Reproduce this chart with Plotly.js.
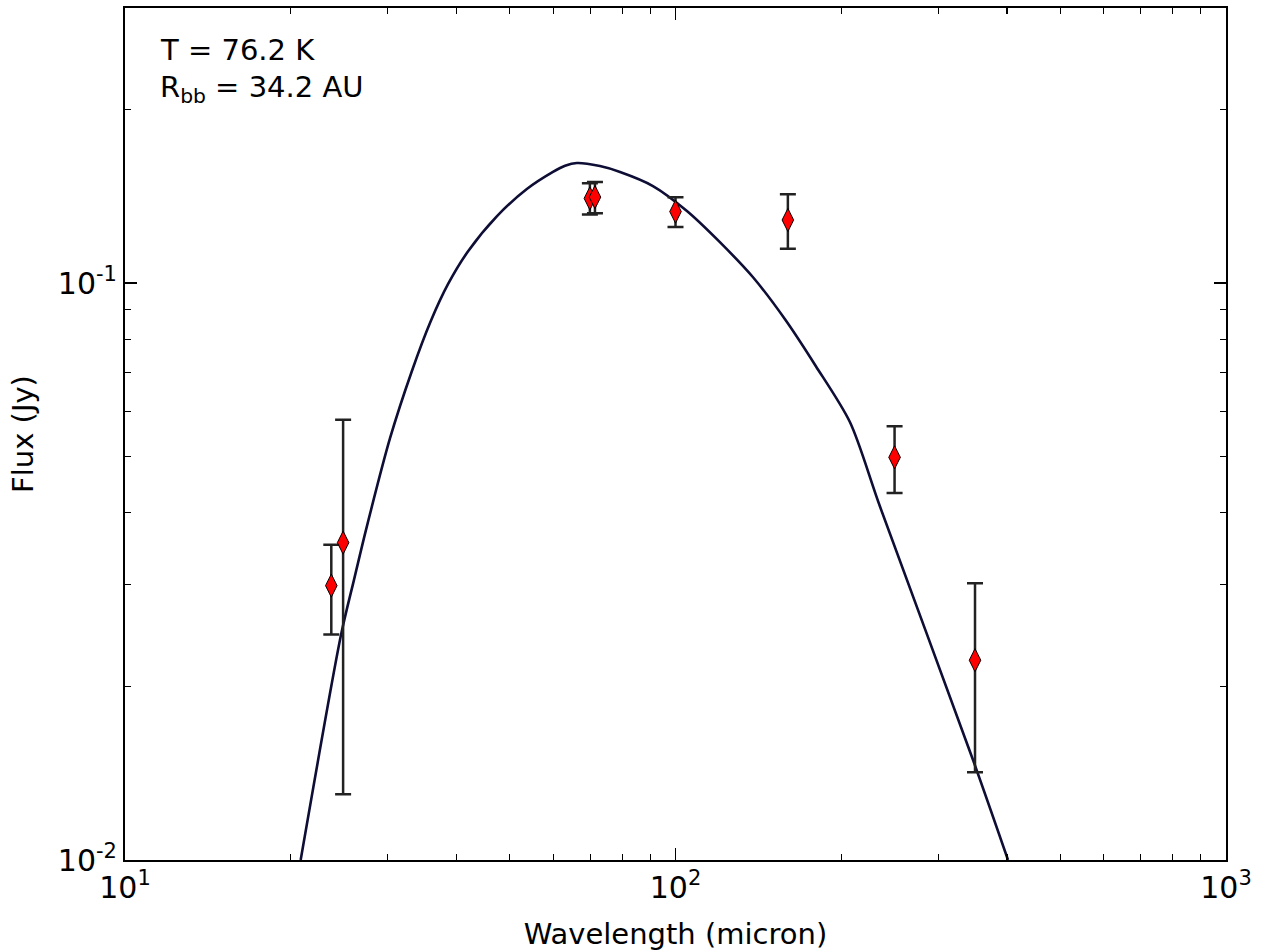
<!DOCTYPE html>
<html>
<head>
<meta charset="utf-8">
<script src="https://cdn.plot.ly/plotly-3.0.1.min.js"></script>
<style>html,body{margin:0;padding:0;background:#fff;}#chart{width:1271px;height:951px;}</style>
</head>
<body>
<div id="chart"></div>
<script>
// Photometry (micron, Jy)
const obsWavelength = [23.7, 24.9, 69.9, 71.4, 100, 160, 250, 350];
const obsFlux = [0.0299, 0.0355, 0.1403, 0.1410, 0.1331, 0.1287, 0.0499, 0.0222];
const obsError = [0.0053, 0.0225, 0.0088, 0.0088, 0.0079, 0.0140, 0.0066, 0.0080];

// Model curve
const modelWavelength = [20.85, 24.69, 26.06, 27.41, 30.29, 33.18, 35.92, 38.61, 42.0, 47.4, 53.7, 59.9, 63.0, 66.2, 72.9, 79.3, 91.0, 104.9, 120.4, 138.3, 158.1, 179.9, 207.5, 235.2, 347.0, 401.8];
const modelFlux = [0.0100, 0.02459, 0.0306, 0.0374, 0.0538, 0.0703, 0.0859, 0.0996, 0.1136, 0.1307, 0.1456, 0.1559, 0.1598, 0.1616, 0.1596, 0.1559, 0.1474, 0.1334, 0.1178, 0.1024, 0.0866, 0.0718, 0.0574, 0.0410, 0.01492, 0.0100];

const xTickVals = [10, 100, 1000];
const xTickText = ['10<sup>1</sup>', '10<sup>2</sup>', '10<sup>3</sup>'];
const xMinorVals = [20, 30, 40, 50, 60, 70, 80, 90, 200, 300, 400, 500, 600, 700, 800, 900];
const yTickVals = [0.01, 0.1];
const yTickText = ['10<sup>-2</sup>', '10<sup>-1</sup>'];
const yMinorVals = [0.02, 0.03, 0.04, 0.05, 0.06, 0.07, 0.08, 0.09, 0.2];

const annotationLines = ['T = 76.2 K', 'R<sub>bb</sub> = 34.2 AU'];

const FONT = 'DejaVu Sans, Bitstream Vera Sans, sans-serif';

const traces = [
  {
    x: modelWavelength, y: modelFlux, type: 'scatter', mode: 'lines',
    line: {color: '#0d0d35', width: 2.6, shape: 'spline', smoothing: 0.8},
    hoverinfo: 'skip', showlegend: false
  },
  {
    x: obsWavelength, y: obsFlux, type: 'scatter', mode: 'markers',
    marker: {symbol: 'diamond-tall', size: 16.5, color: '#ff0000', line: {color: '#000', width: 1}},
    error_y: {type: 'data', array: obsError, visible: true, color: '#222', thickness: 2.5, width: 8},
    showlegend: false
  }
];

const axisCommon = {
  type: 'log', showgrid: false, zeroline: false,
  showline: true, linecolor: '#000', linewidth: 2, mirror: 'ticks',
  ticks: 'inside', ticklen: 12, tickwidth: 1.5, tickcolor: '#000',
  tickmode: 'array',
  tickfont: {family: FONT, size: 30, color: '#000'}
};

const layout = {
  width: 1271, height: 951,
  margin: {l: 125, r: 45, t: 8, b: 91},
  paper_bgcolor: '#fff', plot_bgcolor: '#fff',
  font: {family: FONT, color: '#000'},
  xaxis: Object.assign({}, axisCommon, {
    range: [1, 3], tickvals: xTickVals, ticktext: xTickText,
    minor: {tickmode: 'array', tickvals: xMinorVals, ticks: 'inside', ticklen: 6, tickwidth: 1.2, tickcolor: '#000'},
    title: {text: 'Wavelength (micron)', font: {family: FONT, size: 29, color: '#000'}, standoff: 20}
  }),
  yaxis: Object.assign({}, axisCommon, {
    range: [-2, Math.log10(0.3)], tickvals: yTickVals, ticktext: yTickText,
    minor: {tickmode: 'array', tickvals: yMinorVals, ticks: 'inside', ticklen: 6, tickwidth: 1.2, tickcolor: '#000'},
    title: {text: 'Flux (Jy)', font: {family: FONT, size: 29, color: '#000'}, standoff: 16}
  }),
  annotations: [
    {xref: 'paper', yref: 'paper', x: 0.030, y: (860 - 50) / 852, xanchor: 'left', yanchor: 'middle',
     text: annotationLines[0], showarrow: false, font: {family: FONT, size: 29, color: '#000'}},
    {xref: 'paper', yref: 'paper', x: 0.030, y: (860 - 89) / 852, xanchor: 'left', yanchor: 'middle',
     text: annotationLines[1], showarrow: false, font: {family: FONT, size: 29, color: '#000'}}
  ]
};

Plotly.newPlot('chart', traces, layout, {displayModeBar: false, staticPlot: true});
</script>
</body>
</html>
